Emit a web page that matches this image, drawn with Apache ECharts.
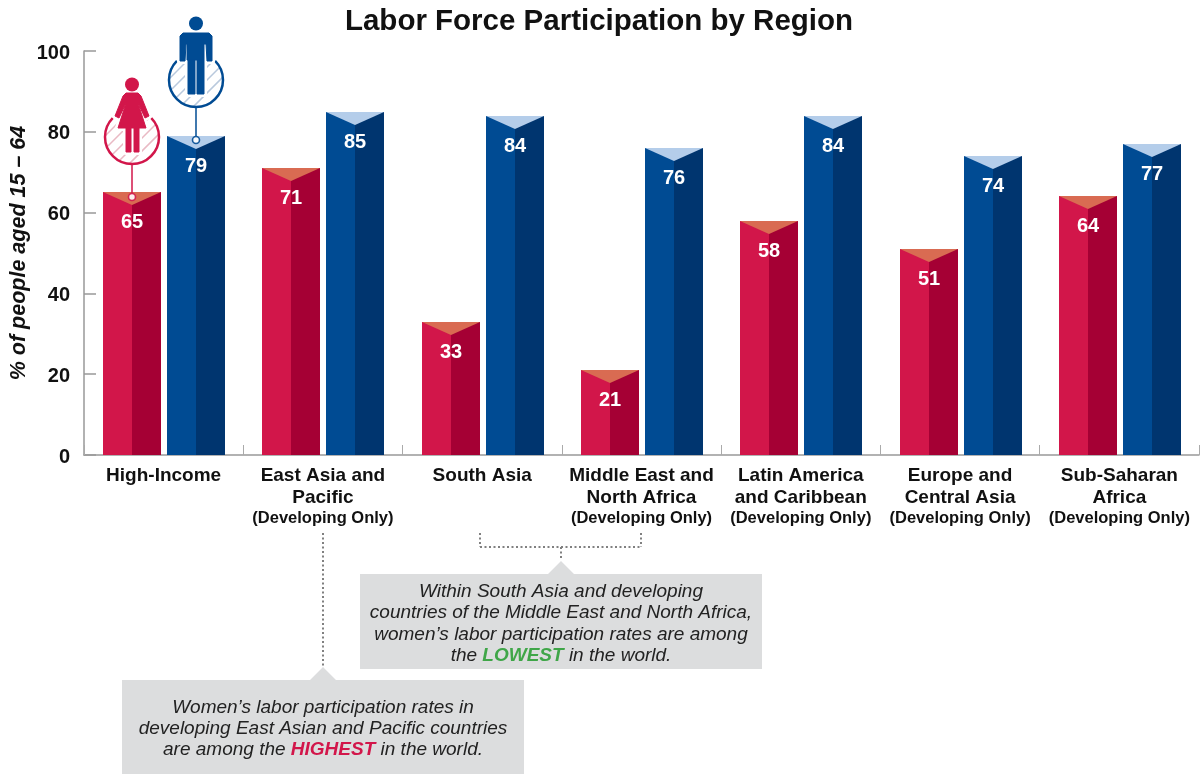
<!DOCTYPE html>
<html><head><meta charset="utf-8">
<style>html,body{margin:0;padding:0;background:#fff}#c{width:1201px;height:776px}</style>
<script src="https://cdn.jsdelivr.net/npm/echarts@6/dist/echarts.min.js"></script>
</head><body><div id="c"></div>
<script>
var categories = [
  'High-Income',
  'East Asia and\nPacific\n{s|(Developing Only)}',
  'South Asia',
  'Middle East and\nNorth Africa\n{s|(Developing Only)}',
  'Latin America\nand Caribbean\n{s|(Developing Only)}',
  'Europe and\nCentral Asia\n{s|(Developing Only)}',
  'Sub-Saharan\nAfrica\n{s|(Developing Only)}'
];
var women = [65, 71, 33, 21, 58, 51, 64];
var men = [79, 85, 84, 76, 84, 74, 77];
var yTicks = [0, 20, 40, 60, 80, 100];
var FONT = '"Liberation Sans", Arial, sans-serif';
var chart = echarts.init(document.getElementById('c'), null, {renderer: 'canvas'});

function barRenderer(offset, cLeft, cRight, cTop) {
  return function (params, api) {
    var idx = api.value(0), val = api.value(1);
    var top = api.coord([idx, val]);
    var base = api.coord([idx, 0]);
    var hw = 29;
    var cx = Math.round(top[0] + offset), yT = Math.round(top[1]), yB = base[1], notch = 13;
    return {type: 'group', children: [
      {type: 'rect', shape: {x: cx - hw, y: yT, width: hw + 1, height: yB - yT}, style: {fill: cLeft}},
      {type: 'rect', shape: {x: cx, y: yT, width: hw, height: yB - yT}, style: {fill: cRight}},
      {type: 'polygon', shape: {points: [[cx - hw, yT], [cx + hw, yT], [cx, yT + notch]]}, style: {fill: cTop}},
      {type: 'text', style: {x: cx, y: yT + 30, text: String(val), fill: '#fff', font: 'bold 20px ' + FONT, align: 'center', verticalAlign: 'middle'}}
    ]};
  };
}

function hatch(cx, cy, r, color) {
  var out = [];
  for (var d = -2 * r; d <= 2 * r; d += 13) {
    var k = d / Math.SQRT2, s = r * r - k * k;
    if (s <= 0) continue;
    var h = Math.sqrt(s);
    var mx = cx + k / Math.SQRT2, my = cy + k / Math.SQRT2;
    out.push({type: 'line', shape: {x1: mx - h / Math.SQRT2, y1: my + h / Math.SQRT2, x2: mx + h / Math.SQRT2, y2: my - h / Math.SQRT2}, style: {stroke: color, lineWidth: 1.5}, z: 3});
  }
  return out;
}

function badge(cx, cy, r, stem, color, hatchColor, body) {
  var els = hatch(cx, cy, r - 1, hatchColor);
  // the ring stays open at the top, where the figure stands in it
  els.push({type: 'rect', shape: {x: cx - r - 2, y: cy - r - 2, width: 2 * r + 4, height: r + 2 - 19}, style: {fill: '#fff'}, z: 3});
  els.push({type: 'arc', shape: {cx: cx, cy: cy, r: r - 1, startAngle: -Math.PI / 4, endAngle: Math.PI * 5 / 4, clockwise: true}, style: {fill: 'none', stroke: color, lineWidth: 2.5}, z: 4});
  els.push({type: 'line', shape: {x1: cx, y1: cy + r, x2: cx, y2: stem}, style: {stroke: color, lineWidth: 2, opacity: 0.75}, z: 4});
  els.push({type: 'circle', shape: {cx: cx, cy: stem + 4, r: 3.5}, style: {fill: '#fff', stroke: color, lineWidth: 1.6, opacity: .9}, z: 6});
  body.forEach(function (p) {
    els.push({type: 'polygon', shape: {points: p}, style: {fill: '#fff', stroke: '#fff', lineWidth: 6, lineJoin: 'round'}, z: 5});
  });
  body.forEach(function (p) {
    els.push({type: 'polygon', shape: {points: p}, style: {fill: color, stroke: color, lineWidth: 1, lineJoin: 'round'}, z: 5});
  });
  return els;
}

var womanParts = [
  [[126,93],[138,93],[141,96],[149,116],[145,118],[138,103],[146,128],[118,128],[126,103],[119,118],[115,116],[123,96]],
  [[126,128],[131,128],[131,152],[126,152]],
  [[134,128],[139,128],[139,152],[134,152]]
];
var manParts = [
  [[183,33],[209,33],[212,36],[212,61],[207,61],[206,44],[204,44],[204,60],[187,60],[187,44],[186,44],[185,61],[180,61],[180,36]],
  [[188,60],[195,60],[195,94],[188,94]],
  [[197,60],[204,60],[204,94],[197,94]]
];

function note(cx, top, bottom, left, right, apexY, lines, textYs) {
  var els = [{type: 'polygon', shape: {points: [[left, top], [cx - 13, top], [cx, apexY], [cx + 13, top], [right, top], [right, bottom], [left, bottom]]}, style: {fill: '#DCDDDE'}, z: 2}];
  lines.forEach(function (l, i) {
    els.push({type: 'text', x: cx, y: textYs[i], style: {text: l, align: 'center', verticalAlign: 'middle', font: 'italic 19px ' + FONT, fill: '#222', rich: {
      g: {font: 'italic bold 19px ' + FONT, fill: '#3FA648'},
      r: {font: 'italic bold 19px ' + FONT, fill: '#D2164A'}
    }}, z: 3});
  });
  return els;
}

function dots(x1, y1, x2, y2) {
  return {type: 'line', shape: {x1: x1, y1: y1, x2: x2, y2: y2}, style: {stroke: '#808080', lineWidth: 2, lineDash: [2, 2.5]}, z: 2};
}

var graphics = []
  .concat([dots(323, 533, 323, 666), dots(480, 533, 480, 547), dots(641, 533, 641, 547), dots(480, 547, 641, 547), dots(561, 547, 561, 559)])
  .concat(note(561, 574, 669, 360, 762, 561, [
    'Within South Asia and developing',
    'countries of the Middle East and North Africa,',
    'women\u2019s labor participation rates are among',
    'the {g|LOWEST} in the world.'], [592, 613, 635, 656]))
  .concat(note(323, 680, 774, 122, 524, 667, [
    'Women\u2019s labor participation rates in',
    'developing East Asian and Pacific countries',
    'are among the {r|HIGHEST} in the world.'], [708, 729, 750]))
  .concat(badge(132, 137, 28, 193, '#D2164A', '#E9B9C4', womanParts))
  .concat([{type: 'circle', shape: {cx: 132, cy: 84.5, r: 7}, style: {fill: '#D2164A'}, z: 5}])
  .concat(badge(196, 80, 28, 136, '#004B93', '#B9C9DD', manParts))
  .concat([{type: 'circle', shape: {cx: 196, cy: 23.5, r: 7}, style: {fill: '#004B93'}, z: 5}]);

chart.setOption({
  animation: false,
  backgroundColor: '#fff',
  title: {text: 'Labor Force Participation by Region', left: 594, top: 17, textAlign: 'center', textVerticalAlign: 'middle',
    textStyle: {fontFamily: FONT, fontWeight: 'bold', fontSize: 29.5, color: '#111'}},
  grid: {left: 84, right: 2, top: 51, bottom: 321, outerBoundsMode: 'none'},
  xAxis: {type: 'category', data: categories,
    axisLine: {lineStyle: {color: '#999', width: 1.5}},
    axisTick: {show: true, inside: true, length: 10, lineStyle: {color: '#aaa'}},
    axisLabel: {interval: 0, margin: 10, color: '#111', fontFamily: FONT, fontWeight: 'bold', fontSize: 19, lineHeight: 22, verticalAlign: 'top',
      rich: {s: {fontFamily: FONT, fontWeight: 'bold', fontSize: 16.5, lineHeight: 19, color: '#111'}}}},
  yAxis: {type: 'value', min: 0, max: 100, interval: 20,
    name: '% of people aged 15 \u2013 64', nameLocation: 'middle', nameGap: 54, nameRotate: 90, nameMoveOverlap: false,
    nameTextStyle: {fontFamily: FONT, fontStyle: 'italic', fontWeight: 'bold', fontSize: 21.5, color: '#111'},
    splitLine: {show: false},
    axisLine: {show: true, lineStyle: {color: '#999', width: 1.5}},
    axisTick: {show: true, inside: true, length: 12, lineStyle: {color: '#999', width: 1.5}},
    axisLabel: {margin: 14, color: '#111',
      formatter: function (v) { return yTicks.indexOf(v) >= 0 ? '{a|' + v + '}' : ''; },
      rich: {a: {fontFamily: FONT, fontWeight: 'bold', fontSize: 20, color: '#111', padding: [4, 0, 0, 0]}}}},
  series: [
    {name: 'Women', type: 'custom', data: women.map(function (v, i) { return [i, v]; }), encode: {x: 0, y: 1},
      renderItem: barRenderer(-31.5, '#D2164A', '#A50034', '#D96B52'), clip: false},
    {name: 'Men', type: 'custom', data: men.map(function (v, i) { return [i, v]; }), encode: {x: 0, y: 1},
      renderItem: barRenderer(32.5, '#004B93', '#00356F', '#B4CDEA'), clip: false}
  ],
  graphic: {elements: graphics}
});
</script></body></html>
